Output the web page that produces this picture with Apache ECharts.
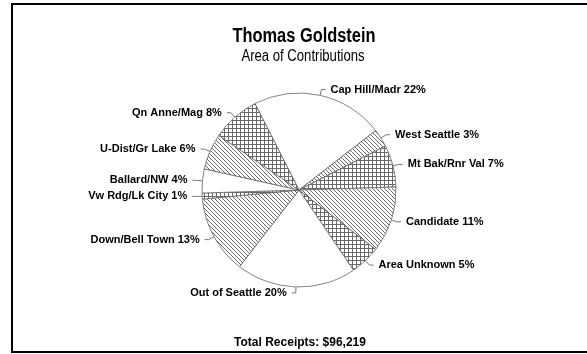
<!DOCTYPE html>
<html>
<head>
<meta charset="utf-8">
<script src="https://cdn.jsdelivr.net/npm/echarts@6/dist/echarts.min.js"></script>
<style>
  html, body { margin: 0; padding: 0; background: #fff; }
  #main { width: 587px; height: 354px; }
</style>
</head>
<body>
<div id="main"></div>
<script>
// areas, clockwise from the top
var areas = ['Cap Hill/Madr', 'West Seattle', 'Mt Bak/Rnr Val', 'Candidate', 'Area Unknown',
             'Out of Seattle', 'Down/Bell Town', 'Vw Rdg/Lk City', 'Ballard/NW', 'U-Dist/Gr Lake', 'Qn Anne/Mag'];
var percents = [22, 3, 7, 11, 5, 20, 13, 1, 4, 6, 8];
// fill kind per slice: 0 white, 1 hatch, 2 cross hatch
var fills = [0, 1, 2, 1, 2, 0, 1, 2, 0, 1, 2];
var titleText = 'Thomas Goldstein';
var subText = 'Area of Contributions';
var totalText = 'Total Receipts: $96,219';

function makePattern(kind) {
  var c = document.createElement('canvas');
  c.width = 4; c.height = 4;
  var g = c.getContext('2d');
  g.fillStyle = '#fff';
  g.fillRect(0, 0, 4, 4);
  g.fillStyle = '#6a6a6a';
  if (kind == 1) {
    // diagonal "\" lines
    for (var i = 0; i < 4; i++) g.fillRect(i, i, 1, 1);
  } else if (kind == 2) {
    g.fillRect(0, 0, 4, 1);
    g.fillRect(0, 0, 1, 4);
  }
  return c;
}

var pieData = [];
for (var i = 0; i < areas.length; i++) {
  pieData.push({
    name: areas[i],
    value: percents[i],
    itemStyle: {
      color: fills[i] == 0 ? '#fff' : { image: makePattern(fills[i]), repeat: 'repeat' }
    }
  });
}

var chart = echarts.init(document.getElementById('main'));
var option = {
  animation: false,
  graphic: [
    {
      type: 'rect',
      shape: { x: 12, y: 4, width: 600, height: 348 },
      style: { fill: null, stroke: '#000', lineWidth: 2 }
    },
    {
      // condensed look of the original title
      type: 'text', x: 304, y: 36, scaleX: 0.82,
      style: {
        text: titleText, fill: '#000', align: 'center', verticalAlign: 'middle',
        font: 'bold 20px "Liberation Sans", Arial, sans-serif'
      }
    },
    {
      type: 'text', x: 303, y: 57, scaleX: 0.82,
      style: {
        text: subText, fill: '#000', align: 'center', verticalAlign: 'middle',
        font: '16px "Liberation Sans", Arial, sans-serif'
      }
    },
    {
      type: 'text', x: 300, y: 343,
      style: {
        text: totalText, fill: '#000', align: 'center', verticalAlign: 'middle',
        font: 'bold 12px "Liberation Sans", Arial, sans-serif'
      }
    }
  ],
  series: [{
    type: 'pie',
    center: [299, 190],
    radius: 97,
    startAngle: 117,
    clockwise: true,
    data: pieData,
    itemStyle: { borderColor: '#666', borderWidth: 0.8 },
    label: {
      formatter: '{b} {c}%',
      fontFamily: 'Liberation Sans',
      fontSize: 11,
      fontWeight: 'bold',
      color: '#000'
    },
    labelLine: {
      length: 6, length2: 4,
      lineStyle: { color: '#777', width: 1 }
    },
    emphasis: { disabled: true }
  }]
};
chart.setOption(option);
</script>
</body>
</html>
